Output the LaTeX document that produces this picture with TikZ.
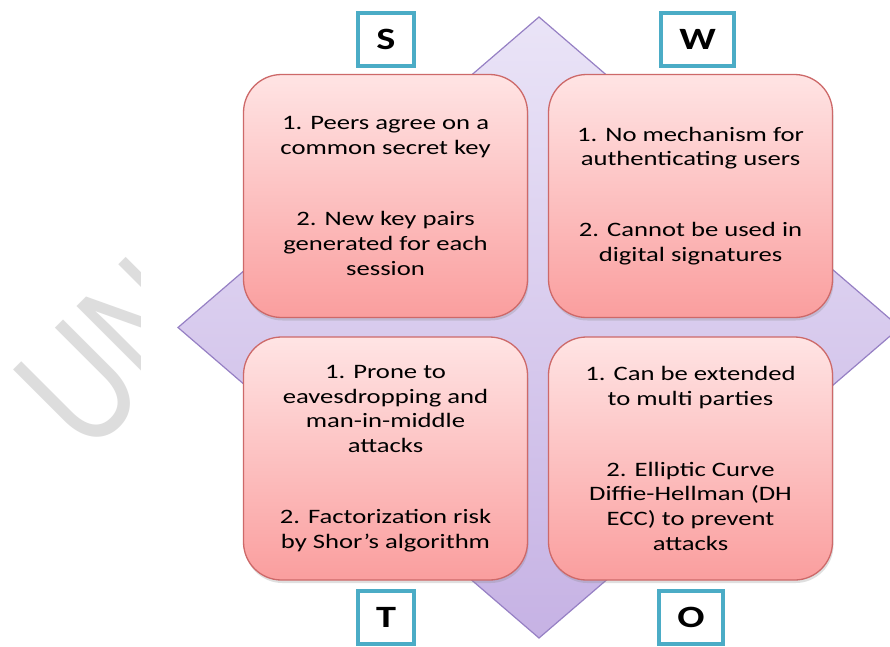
\documentclass[tikz,border=0pt]{standalone}
\usepackage{fontspec}
\setmainfont{Carlito}
\newfontfamily\wmfont{Liberation Sans}
\usetikzlibrary{shadows}
\definecolor{diaTop}{RGB}{234,228,247}
\definecolor{diaBot}{RGB}{198,178,228}
\definecolor{diaLine}{RGB}{150,128,196}
\definecolor{pinkTop}{RGB}{255,228,228}
\definecolor{pinkBot}{RGB}{250,158,158}
\definecolor{pinkLine}{RGB}{205,105,105}
\definecolor{aqua}{RGB}{75,172,198}
\definecolor{wmgray}{RGB}{221,221,221}
\newcommand\sx[1]{\scalebox{1.3}[1]{#1}}
\begin{document}
\begin{tikzpicture}[x=1pt,y=-1pt,
  pinkbox/.style={draw=pinkLine, line width=1.3pt, rounded corners=38pt,
    top color=pinkTop, bottom color=pinkBot,
    minimum width=284pt, minimum height=243pt, align=center,
    font=\fontsize{20.5}{24.8}\selectfont, text=black,
    drop shadow={opacity=0.25, shadow xshift=1pt, shadow yshift=-3pt}},
  letterbox/.style={draw=aqua, line width=4pt, fill=white, inner xsep=18pt,
    inner ysep=0pt, minimum height=53pt,
    font=\fontsize{31}{31}\selectfont\bfseries},
  diamondshape/.style={draw=diaLine, line width=1.2pt, top color=diaTop, bottom color=diaBot}
]
\useasboundingbox (0,0) rectangle (890,646);
\clip (0,0) rectangle (890,646);
\fill[white] (0,0) rectangle (890,646);
% watermark
\begin{scope}
  \clip (0,0) rectangle (140,646);
  \node[rotate=45, anchor=base west, inner sep=0pt, text=wmgray,
        font=\wmfont\fontsize{166}{166}\selectfont] (wm) at (87,458) {\scalebox{0.75}[1]{UNI}};
\end{scope}
% diamond
\coordinate (dt) at (539,17);
\coordinate (dr) at (900,327.5);
\coordinate (db) at (539,638);
\coordinate (dl) at (178,327.5);
\path[diamondshape] (dt) -- (dr) -- (db) -- (dl) -- cycle;
% quadrant boxes
\node[pinkbox] (s) at (385.5,196) {\sx{1. Peers agree on a}\\\sx{common secret key}\\[46pt]\sx{2. New key pairs}\\\sx{generated for each}\\\sx{session}};
\node[pinkbox] (w) at (690.5,196) {\sx{1. No mechanism for}\\\sx{authenticating users}\\[46pt]\sx{2. Cannot be used in}\\\sx{digital signatures}};
\node[pinkbox] (t) at (385.5,458.5) {\sx{1. Prone to}\\\sx{eavesdropping and}\\\sx{man-in-middle}\\\sx{attacks}\\[46pt]\sx{2. Factorization risk}\\\sx{by Shor’s algorithm}};
\node[pinkbox] (o) at (690.5,458.5) {\sx{1. Can be extended}\\\sx{to multi parties}\\[46pt]\sx{2. Elliptic Curve}\\\sx{Diffie-Hellman (DH}\\\sx{ECC) to prevent}\\\sx{attacks}};
% letters
\node[letterbox] (ls) at (386,39.5) {\sx{S}};
\node[letterbox] (lw) at (697.5,39.5) {\sx{W}};
\node[letterbox] (lt) at (386,617.5) {\sx{T}};
\node[letterbox] (lo) at (691,617.5) {\sx{O}};
\end{tikzpicture}
\end{document}
